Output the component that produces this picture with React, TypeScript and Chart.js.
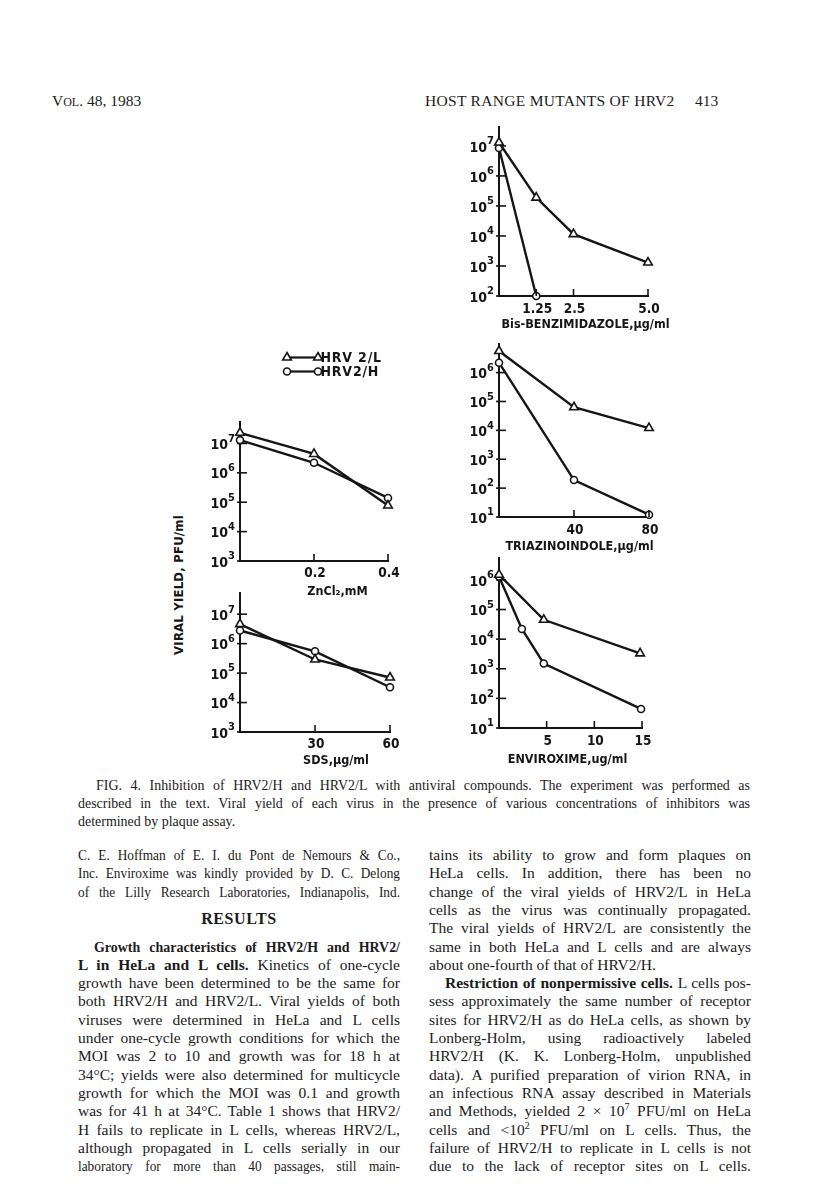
import React, { useEffect, useRef } from "react";
import { Chart, registerables } from "chart.js";

Chart.register(...registerables);

// ---------------- DATA ----------------
// Bis-benzimidazole (µg/ml)
const bisLX = [0, 1.25, 2.5, 5.0];
const bisL = [1.3e7, 1.9e5, 1.15e4, 1.3e3];
const bisHX = [0, 1.25];
const bisH = [8.5e6, 1e2];
const bisTicks = [1.25, 2.5, 5.0];
const bisTickLabels = ["1.25", "2.5", "5.0"];
const bisExps = [2, 3, 4, 5, 6, 7];

// Triazinoindole (µg/ml)
const triX = [0, 40, 80];
const triL = [5.6e6, 6.3e4, 1.2e4];
const triH = [2.2e6, 1.9e2, 12];
const triTicks = [40, 80];
const triTickLabels = ["40", "80"];
const triExps = [1, 2, 3, 4, 5, 6];

// Enviroxime (µg/ml)
const envLX = [0, 4.7, 14.8];
const envL = [1.5e6, 4.5e4, 3.3e3];
const envHX = [0, 2.4, 4.7, 14.9];
const envH = [1.3e6, 2.2e4, 1.5e3, 44];
const envTicks = [5, 10, 15];
const envTickLabels = ["5", "10", "15"];
const envExps = [1, 2, 3, 4, 5, 6];

// ZnCl2 (mM)
const znX = [0, 0.2, 0.4];
const znL = [2.3e7, 4.4e6, 7.7e4];
const znH = [1.3e7, 2.2e6, 1.4e5];
const znTicks = [0.2, 0.4];
const znTickLabels = ["0.2", "0.4"];
const znExps = [3, 4, 5, 6, 7];

// SDS (µg/ml)
const sdsX = [0, 30, 60];
const sdsL = [4.6e6, 2.9e5, 7.1e4];
const sdsH = [2.8e6, 5.5e5, 3.3e4];
const sdsTicks = [30, 60];
const sdsTickLabels = ["30", "60"];
const sdsExps = [3, 4, 5, 6, 7];

const labelL = "HRV 2/L";
const labelH = "HRV2/H";

// ---------------- STYLE ----------------
const INK = "#151515";
const FONT = "'DejaVu Sans Condensed', 'DejaVu Sans', sans-serif";
const SERIF = "'Liberation Serif', 'Times New Roman', serif";
const Y_W = 50;
const X_H = 42;
const PAD_R = 45;

function drawMarker(ctx: CanvasRenderingContext2D, style: string, x: number, y: number) {
  ctx.beginPath();
  if (style === "triangle") {
    const r = 5;
    ctx.moveTo(x, y - r);
    ctx.lineTo(x + r * 0.866, y + r * 0.5);
    ctx.lineTo(x - r * 0.866, y + r * 0.5);
    ctx.closePath();
  } else {
    ctx.arc(x, y, 3.5, 0, Math.PI * 2);
  }
  ctx.fillStyle = "#fff";
  ctx.fill();
  ctx.lineWidth = 1.6;
  ctx.strokeStyle = INK;
  ctx.stroke();
}

const paperPlugin = {
  id: "paper",
  beforeDatasetsDraw(chart: any, _args: any, o: any) {
    const { ctx, chartArea: ca, scales } = chart;
    const ys = scales.y;
    ctx.save();
    ctx.strokeStyle = INK;
    ctx.lineWidth = 1.6;
    // y tick marks crossing the axis
    for (const e of o.exps) {
      const py = ys.getPixelForValue(Math.pow(10, e));
      ctx.beginPath();
      ctx.moveTo(ca.left - 3, py);
      ctx.lineTo(ca.left + 7, py);
      ctx.stroke();
    }
    ctx.restore();
  },
  afterDraw(chart: any, _args: any, o: any) {
    const { ctx, chartArea: ca, scales } = chart;
    const xs = scales.x;
    const ys = scales.y;
    ctx.save();
    ctx.strokeStyle = INK;
    ctx.fillStyle = INK;
    ctx.lineWidth = 1.6;
    // inward x tick marks + labels
    o.xTicks.forEach((t: number, i: number) => {
      const px = xs.getPixelForValue(t);
      ctx.beginPath();
      ctx.moveTo(px, ca.bottom);
      ctx.lineTo(px, ca.bottom - 7);
      ctx.stroke();
      ctx.font = `bold 13.5px ${FONT}`;
      ctx.textAlign = "center";
      ctx.textBaseline = "middle";
      ctx.fillText(o.xTickLabels[i], px + 1, ca.bottom + o.tickDy);
    });
    // y labels 10^n
    for (const e of o.exps) {
      const py = ys.getPixelForValue(Math.pow(10, e));
      const right = ca.left - 5;
      ctx.textBaseline = "middle";
      ctx.font = `bold 11px ${FONT}`;
      const es = String(e);
      const ew = ctx.measureText(es).width;
      ctx.textAlign = "left";
      ctx.fillText(es, right - ew, py - 4.5);
      ctx.font = `bold 14px ${FONT}`;
      ctx.textAlign = "right";
      ctx.fillText("10", right - ew, py + 2);
    }
    // x title
    ctx.font = `bold 12.5px ${FONT}`;
    ctx.textAlign = "center";
    ctx.textBaseline = "middle";
    ctx.fillText(o.title, (ca.left + ca.right) / 2 + o.titleDx, ca.bottom + o.titleDy);
    // legend
    if (o.legend) {
      const lg = o.legend;
      chart.data.datasets.forEach((ds: any, i: number) => {
        const y = ca.top + lg.dy[i];
        const x1 = ca.left + lg.x1;
        const x2 = ca.left + lg.x2;
        ctx.beginPath();
        ctx.moveTo(x1, y);
        ctx.lineTo(x2, y);
        ctx.lineWidth = 2.2;
        ctx.strokeStyle = INK;
        ctx.stroke();
        drawMarker(ctx, ds.pointStyle, x1, y);
        drawMarker(ctx, ds.pointStyle, x2, y);
        ctx.fillStyle = INK;
        ctx.font = `bold 14px ${FONT}`;
        (ctx as any).letterSpacing = "0.8px";
        ctx.textAlign = "left";
        ctx.textBaseline = "middle";
        ctx.fillText(ds.label, ca.left + lg.textX, y + 0.5);
        (ctx as any).letterSpacing = "0px";
      });
    }
    ctx.restore();
  },
};

type Series = { label: string; xs: number[]; ys: number[]; style: string };

type PanelProps = {
  axisX: number;
  axisTop: number;
  axisBottom: number;
  axisRight: number;
  minExp: number;
  maxExp: number;
  xMax: number;
  xTicks: number[];
  xTickLabels: string[];
  exps: number[];
  title: string;
  titleDx: number;
  titleDy: number;
  tickDy?: number;
  series: Series[];
  padTop?: number;
  legend?: any;
};

function Panel(p: PanelProps) {
  const ref = useRef<HTMLCanvasElement>(null);
  const padTop = p.padTop ?? 12;
  const left = Math.round(p.axisX - Y_W);
  const top = Math.round(p.axisTop - padTop);
  const width = Math.round(p.axisRight - left + PAD_R);
  const height = Math.round(p.axisBottom + X_H - top);
  const padT = Math.round(p.axisTop - top);
  useEffect(() => {
    const chart = new Chart(ref.current as HTMLCanvasElement, {
      type: "line",
      data: {
        datasets: p.series.map((s) => ({
          label: s.label,
          data: s.xs.map((x, i) => ({ x, y: s.ys[i] })),
          borderColor: INK,
          borderWidth: 2.4,
          pointStyle: s.style as any,
          pointRadius: s.style === "triangle" ? 5 : 3.5,
          pointBackgroundColor: "#fff",
          pointBorderColor: INK,
          pointBorderWidth: 1.6,
          tension: 0,
          fill: false,
          clip: false as any,
        })),
      },
      options: {
        animation: false,
        responsive: false,
        devicePixelRatio: 1,
        events: [],
        layout: { padding: { left: 0, top: padT, right: PAD_R, bottom: 0 } },
        plugins: {
          legend: { display: false },
          tooltip: { enabled: false },
          paper: {
            xTicks: p.xTicks,
            xTickLabels: p.xTickLabels,
            exps: p.exps,
            title: p.title,
            titleDx: p.titleDx,
            titleDy: p.titleDy,
            tickDy: p.tickDy ?? 13,
            legend: p.legend,
          },
        } as any,
        scales: {
          x: {
            type: "linear",
            min: 0,
            max: p.xMax,
            afterBuildTicks: (s: any) => {
              s.ticks = p.xTicks.map((v) => ({ value: v }));
            },
            afterFit: (s: any) => {
              s.height = X_H;
            },
            ticks: { display: false },
            grid: { display: false },
            border: { display: true, color: INK, width: 2 },
          },
          y: {
            type: "logarithmic",
            min: Math.pow(10, p.minExp),
            max: Math.pow(10, p.maxExp),
            afterBuildTicks: (s: any) => {
              s.ticks = p.exps.map((e) => ({ value: Math.pow(10, e) }));
            },
            afterFit: (s: any) => {
              s.width = Y_W;
            },
            ticks: { display: false },
            grid: { display: false },
            border: { display: true, color: INK, width: 2 },
          },
        } as any,
      },
      plugins: [paperPlugin as any],
    });
    return () => chart.destroy();
  }, []);
  return (
    <canvas
      ref={ref}
      width={width}
      height={height}
      style={{ position: "absolute", left, top, width, height }}
    />
  );
}

function TextLine(props: {
  x: number;
  cy: number;
  w: number;
  indent?: number;
  justify?: boolean;
  cond?: number;
  size?: number;
  lh?: number;
  center?: boolean;
  children: React.ReactNode;
}) {
  const { x, cy, w, indent = 0, justify = true, cond = 1, size = 15.5, lh = 18, center = false } = props;
  const align = center ? "center" : justify ? "justify" : "left";
  return (
    <div
      style={{
        position: "absolute",
        left: x + indent,
        top: cy - lh / 2,
        width: (w - indent) / cond,
        height: lh,
        lineHeight: lh + "px",
        fontSize: size,
        fontFamily: SERIF,
        color: "#1b1b1b",
        textAlign: align as any,
        textAlignLast: align as any,
        transform: cond !== 1 ? `scaleX(${cond})` : undefined,
        transformOrigin: "left center",
      }}
    >
      {props.children}
    </div>
  );
}

const LX = 78;
const RX = 429;
const CW = 322;
const L0 = 855;
const LP = 18.3;
const ly = (i: number) => L0 + (i - 1) * LP;
const CAP = 672;
const CAPC = 0.93;
const CAPS = 15;

export default function App() {
  return (
    <div
      style={{
        position: "absolute",
        left: 0,
        top: 0,
        width: 816,
        height: 1199,
        background: "#fff",
        overflow: "hidden",
      }}
    >
      {/* Header */}
      <div style={{ position: "absolute", left: 52, top: 92, fontFamily: SERIF, fontSize: 15.5, lineHeight: "18px", color: "#1b1b1b", whiteSpace: "nowrap" }}>
        V<span style={{ fontSize: 12 }}>OL</span>. 48, 1983
      </div>
      <div style={{ position: "absolute", left: 425, top: 92, fontFamily: SERIF, fontSize: 15.5, lineHeight: "18px", color: "#1b1b1b", whiteSpace: "nowrap", letterSpacing: 0.3 }}>
        HOST RANGE MUTANTS OF HRV2
      </div>
      <div style={{ position: "absolute", left: 695, top: 92, fontFamily: SERIF, fontSize: 15.5, lineHeight: "18px", color: "#1b1b1b" }}>413</div>

      {/* Charts */}
      <Panel
        axisX={499}
        axisTop={127}
        axisBottom={296}
        axisRight={647.5}
        minExp={2}
        maxExp={7.63}
        xMax={5}
        xTicks={bisTicks}
        xTickLabels={bisTickLabels}
        exps={bisExps}
        title="Bis-BENZIMIDAZOLE,μg/ml"
        titleDx={12}
        titleDy={29}
        series={[
          { label: labelL, xs: bisLX, ys: bisL, style: "triangle" },
          { label: labelH, xs: bisHX, ys: bisH, style: "circle" },
        ]}
      />
      <Panel
        axisX={499}
        axisTop={344}
        axisBottom={516.7}
        axisRight={649}
        minExp={1}
        maxExp={6.99}
        xMax={80}
        xTicks={triTicks}
        xTickLabels={triTickLabels}
        exps={triExps}
        title="TRIAZINOINDOLE,μg/ml"
        titleDx={5.5}
        titleDy={30}
        series={[
          { label: labelL, xs: triX, ys: triL, style: "triangle" },
          { label: labelH, xs: triX, ys: triH, style: "circle" },
        ]}
      />
      <Panel
        axisX={499}
        axisTop={558}
        axisBottom={728}
        axisRight={641.7}
        minExp={1}
        maxExp={6.74}
        xMax={15}
        xTicks={envTicks}
        xTickLabels={envTickLabels}
        exps={envExps}
        title="ENVIROXIME,ug/ml"
        titleDx={-3}
        titleDy={32}
        series={[
          { label: labelL, xs: envLX, ys: envL, style: "triangle" },
          { label: labelH, xs: envHX, ys: envH, style: "circle" },
        ]}
      />
      <Panel
        axisX={240}
        axisTop={421.7}
        axisBottom={560.7}
        axisRight={388.3}
        minExp={3}
        maxExp={7.73}
        xMax={0.4}
        xTicks={znTicks}
        xTickLabels={znTickLabels}
        exps={znExps}
        title="ZnCl₂,mM"
        titleDx={23.5}
        titleDy={31}
        tickDy={12}
        padTop={72}
        legend={{ x1: 47, x2: 78, textX: 80.5, dy: [-64.5, -50.5] }}
        series={[
          { label: labelL, xs: znX, ys: znL, style: "triangle" },
          { label: labelH, xs: znX, ys: znH, style: "circle" },
        ]}
      />
      <Panel
        axisX={240}
        axisTop={593}
        axisBottom={732.3}
        axisRight={390}
        minExp={3}
        maxExp={7.72}
        xMax={60}
        xTicks={sdsTicks}
        xTickLabels={sdsTickLabels}
        exps={sdsExps}
        title="SDS,μg/ml"
        titleDx={21}
        titleDy={29}
        tickDy={12}
        series={[
          { label: labelL, xs: sdsX, ys: sdsL, style: "triangle" },
          { label: labelH, xs: sdsX, ys: sdsH, style: "circle" },
        ]}
      />

      {/* Shared y-axis title */}
      <div
        style={{
          position: "absolute",
          left: 178,
          top: 585,
          transform: "translate(-50%, -50%) rotate(-90deg)",
          whiteSpace: "nowrap",
          fontFamily: FONT,
          fontWeight: "bold",
          fontSize: 13,
          letterSpacing: 0.2,
          color: INK,
        }}
      >
        VIRAL YIELD, PFU/ml
      </div>

      {/* Caption */}
      <TextLine x={LX} cy={785} w={CAP} indent={18} size={CAPS} cond={CAPC}>
        FIG. 4. Inhibition of HRV2/H and HRV2/L with antiviral compounds. The experiment was performed as
      </TextLine>
      <TextLine x={LX} cy={803} w={CAP} size={CAPS} cond={CAPC}>
        described in the text. Viral yield of each virus in the presence of various concentrations of inhibitors was
      </TextLine>
      <TextLine x={LX} cy={821} w={CAP} size={CAPS} cond={CAPC} justify={false}>
        determined by plaque assay.
      </TextLine>

      {/* Left column */}
      <TextLine x={LX} cy={ly(1)} w={CW} cond={0.86}>C. E. Hoffman of E. I. du Pont de Nemours &amp; Co.,</TextLine>
      <TextLine x={LX} cy={ly(2)} w={CW} cond={0.86}>Inc. Enviroxime was kindly provided by D. C. Delong</TextLine>
      <TextLine x={LX} cy={ly(3)} w={CW} cond={0.86}>of the Lilly Research Laboratories, Indianapolis, Ind.</TextLine>
      <TextLine x={LX} cy={ly(4.5)} w={CW} center size={16}>
        <b style={{ letterSpacing: 0.6 }}>RESULTS</b>
      </TextLine>
      <TextLine x={LX} cy={ly(6)} w={CW} indent={16} cond={0.9}><b>Growth characteristics of HRV2/H and HRV2/</b></TextLine>
      <TextLine x={LX} cy={ly(7)} w={CW}><b>L in HeLa and L cells.</b> Kinetics of one-cycle</TextLine>
      <TextLine x={LX} cy={ly(8)} w={CW}>growth have been determined to be the same for</TextLine>
      <TextLine x={LX} cy={ly(9)} w={CW}>both HRV2/H and HRV2/L. Viral yields of both</TextLine>
      <TextLine x={LX} cy={ly(10)} w={CW}>viruses were determined in HeLa and L cells</TextLine>
      <TextLine x={LX} cy={ly(11)} w={CW}>under one-cycle growth conditions for which the</TextLine>
      <TextLine x={LX} cy={ly(12)} w={CW}>MOI was 2 to 10 and growth was for 18 h at</TextLine>
      <TextLine x={LX} cy={ly(13)} w={CW}>34°C; yields were also determined for multicycle</TextLine>
      <TextLine x={LX} cy={ly(14)} w={CW}>growth for which the MOI was 0.1 and growth</TextLine>
      <TextLine x={LX} cy={ly(15)} w={CW}>was for 41 h at 34°C. Table 1 shows that HRV2/</TextLine>
      <TextLine x={LX} cy={ly(16)} w={CW}>H fails to replicate in L cells, whereas HRV2/L,</TextLine>
      <TextLine x={LX} cy={ly(17)} w={CW}>although propagated in L cells serially in our</TextLine>
      <TextLine x={LX} cy={ly(18)} w={CW} cond={0.86}>laboratory for more than 40 passages, still main-</TextLine>

      {/* Right column */}
      <TextLine x={RX} cy={ly(1)} w={CW}>tains its ability to grow and form plaques on</TextLine>
      <TextLine x={RX} cy={ly(2)} w={CW}>HeLa cells. In addition, there has been no</TextLine>
      <TextLine x={RX} cy={ly(3)} w={CW}>change of the viral yields of HRV2/L in HeLa</TextLine>
      <TextLine x={RX} cy={ly(4)} w={CW}>cells as the virus was continually propagated.</TextLine>
      <TextLine x={RX} cy={ly(5)} w={CW}>The viral yields of HRV2/L are consistently the</TextLine>
      <TextLine x={RX} cy={ly(6)} w={CW}>same in both HeLa and L cells and are always</TextLine>
      <TextLine x={RX} cy={ly(7)} w={CW} justify={false}>about one-fourth of that of HRV2/H.</TextLine>
      <TextLine x={RX} cy={ly(8)} w={CW} indent={16}><b>Restriction of nonpermissive cells.</b> L cells pos-</TextLine>
      <TextLine x={RX} cy={ly(9)} w={CW}>sess approximately the same number of receptor</TextLine>
      <TextLine x={RX} cy={ly(10)} w={CW}>sites for HRV2/H as do HeLa cells, as shown by</TextLine>
      <TextLine x={RX} cy={ly(11)} w={CW}>Lonberg-Holm, using radioactively labeled</TextLine>
      <TextLine x={RX} cy={ly(12)} w={CW}>HRV2/H (K. K. Lonberg-Holm, unpublished</TextLine>
      <TextLine x={RX} cy={ly(13)} w={CW}>data). A purified preparation of virion RNA, in</TextLine>
      <TextLine x={RX} cy={ly(14)} w={CW}>an infectious RNA assay described in Materials</TextLine>
      <TextLine x={RX} cy={ly(15)} w={CW}>
        and Methods, yielded 2 × 10<sup style={{ fontSize: 10, lineHeight: 0 }}>7</sup> PFU/ml on HeLa
      </TextLine>
      <TextLine x={RX} cy={ly(16)} w={CW}>
        cells and &lt;10<sup style={{ fontSize: 10, lineHeight: 0 }}>2</sup> PFU/ml on L cells. Thus, the
      </TextLine>
      <TextLine x={RX} cy={ly(17)} w={CW}>failure of HRV2/H to replicate in L cells is not</TextLine>
      <TextLine x={RX} cy={ly(18)} w={CW}>due to the lack of receptor sites on L cells.</TextLine>
    </div>
  );
}
